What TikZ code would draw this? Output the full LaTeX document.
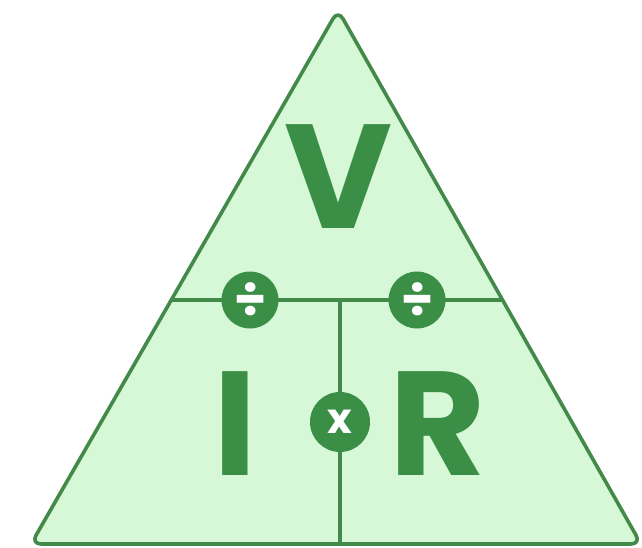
\documentclass[tikz,border=0pt]{standalone}
\usepackage{fontspec}
\setmainfont{Poppins}
\usetikzlibrary{calc}
\definecolor{leaf}{HTML}{D6F8D6}
\definecolor{forest}{HTML}{3B8E46}
\definecolor{edge}{HTML}{438A4A}

\begin{document}
\begin{tikzpicture}[
  x=1pt, y=-1pt,
  letter/.style={anchor=base, inner sep=0pt, text=forest,
                 font=\fontsize{148}{148}\selectfont\bfseries},
  sign/.style={circle, fill=forest, minimum size=57pt, inner sep=0pt,
               text=white, font=\fontsize{52}{52}\selectfont\bfseries},
  every path/.style={line join=round}
]
  \useasboundingbox (0,0) rectangle (642,548);
  %% Triangle corners
  \coordinate (apex) at (338,10);
  \coordinate (bl) at (31,544);
  \coordinate (br) at (641,544);
  \draw[edge, line width=3.6pt, fill=leaf, rounded corners=10pt]
    (apex) -- (br) -- (bl) -- cycle;
  %% Dividers
  \coordinate (ml) at ($(apex)!0.543!(bl)$);
  \coordinate (mr) at ($(apex)!0.543!(br)$);
  \coordinate (mid) at (340,300);
  \coordinate (bot) at (340,544);
  \draw[edge, line width=3.4pt] (ml) -- (mr);
  \draw[edge, line width=3.4pt] (mid) -- (bot);
  %% Letters
  \node[letter] (volt) at (339,228) {V};
  \node[letter] (amp) at (235,475) {I};
  \node[letter] (ohm) at (438,475) {R};
  %% Operators
  \node[sign] (divl) at (250,300) {÷};
  \node[sign] (divr) at (417,300) {÷};
  \node[sign, minimum size=60pt, font=\fontsize{42}{42}\selectfont\bfseries]
    (times) at (340,422) {x};
\end{tikzpicture}
\end{document}
